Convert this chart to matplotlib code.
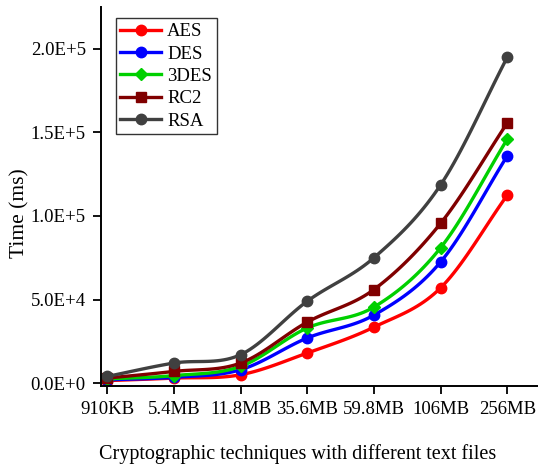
import matplotlib
matplotlib.use("Agg")
import matplotlib.pyplot as plt
import numpy as np

plt.rcParams['font.family'] = ['Liberation Serif', 'DejaVu Serif']

sizes = ["910KB", "5.4MB", "11.8MB", "35.6MB", "59.8MB", "106MB", "256MB"]
aes = [1500, 3000, 5000, 18000, 33500, 57000, 112500]
des = [2000, 3500, 8000, 27000, 40700, 72500, 136000]
tdes = [2500, 4500, 10000, 33000, 45500, 81000, 146000]
rc2 = [3000, 7000, 12000, 36500, 56000, 95600, 155700]
rsa = [4000, 12000, 17000, 49000, 75000, 118600, 195000]

series = [
    ("AES", aes, "#ff0000", "o"),
    ("DES", des, "#0000ff", "o"),
    ("3DES", tdes, "#00d000", "D"),
    ("RC2", rc2, "#800000", "s"),
    ("RSA", rsa, "#404040", "o"),
]


def smooth(x, y, n=20):
    # catmull-rom curve through the points, only for drawing the line
    x = np.asarray(x, float)
    y = np.asarray(y, float)
    px = np.concatenate([[2 * x[0] - x[1]], x, [2 * x[-1] - x[-2]]])
    py = np.concatenate([[2 * y[0] - y[1]], y, [2 * y[-1] - y[-2]]])
    xs, ys = [], []
    t = np.linspace(0, 1, n, endpoint=False)
    for i in range(1, len(px) - 2):
        for p, out in ((px, xs), (py, ys)):
            p0, p1, p2, p3 = p[i - 1], p[i], p[i + 1], p[i + 2]
            out.extend(0.5 * (2 * p1 + (-p0 + p2) * t
                              + (2 * p0 - 5 * p1 + 4 * p2 - p3) * t ** 2
                              + (-p0 + 3 * p1 - 3 * p2 + p3) * t ** 3))
    xs.append(x[-1])
    ys.append(y[-1])
    return np.array(xs), np.array(ys)


fig = plt.figure(figsize=(5.38, 4.68), dpi=100)
ax = fig.add_axes([0.188, 0.176, 0.812, 0.809])

x = np.arange(len(sizes))
for name, vals, col, mk in series:
    sx, sy = smooth(x, vals)
    ax.plot(sx, sy, color=col, lw=2.4)
    ax.plot(x, vals, color=col, lw=0, marker=mk, ms=7.5 if mk != "D" else 6.5)
    ax.plot([], [], color=col, lw=2.4, marker=mk, ms=7.5 if mk != "D" else 6.5, label=name)

ax.set_xlim(-0.09, 6.46)
ax.set_ylim(-1500, 225000)
ax.set_xticks(x)
ax.set_xticklabels(sizes)
yt = [0, 50000, 100000, 150000, 200000]
ax.set_yticks(yt)
ax.set_yticklabels(["0.0E+0", "5.0E+4", "1.0E+5", "1.5E+5", "2.0E+5"])
ax.tick_params(labelsize=13.5, direction="out", length=6, width=1.3, pad=5)
ax.spines["top"].set_visible(False)
ax.spines["right"].set_visible(False)
ax.spines["left"].set_linewidth(1.4)
ax.spines["bottom"].set_linewidth(1.4)

ax.set_ylabel("Time (ms)", fontsize=15.5)
ax.yaxis.set_label_coords(-0.165, 0.455)
ax.set_xlabel("Cryptographic techniques with different text files", fontsize=14.5)
ax.xaxis.set_label_coords(0.449, -0.155)

leg = ax.legend(loc="upper left", bbox_to_anchor=(0.02, 0.985), fontsize=13.5, frameon=True,
                fancybox=False, edgecolor="black", handlelength=2.2, handletextpad=0.3,
                labelspacing=0.28, borderpad=0.25, borderaxespad=0.3)
leg.get_frame().set_linewidth(1.0)

fig.savefig("out.png", dpi=100)
